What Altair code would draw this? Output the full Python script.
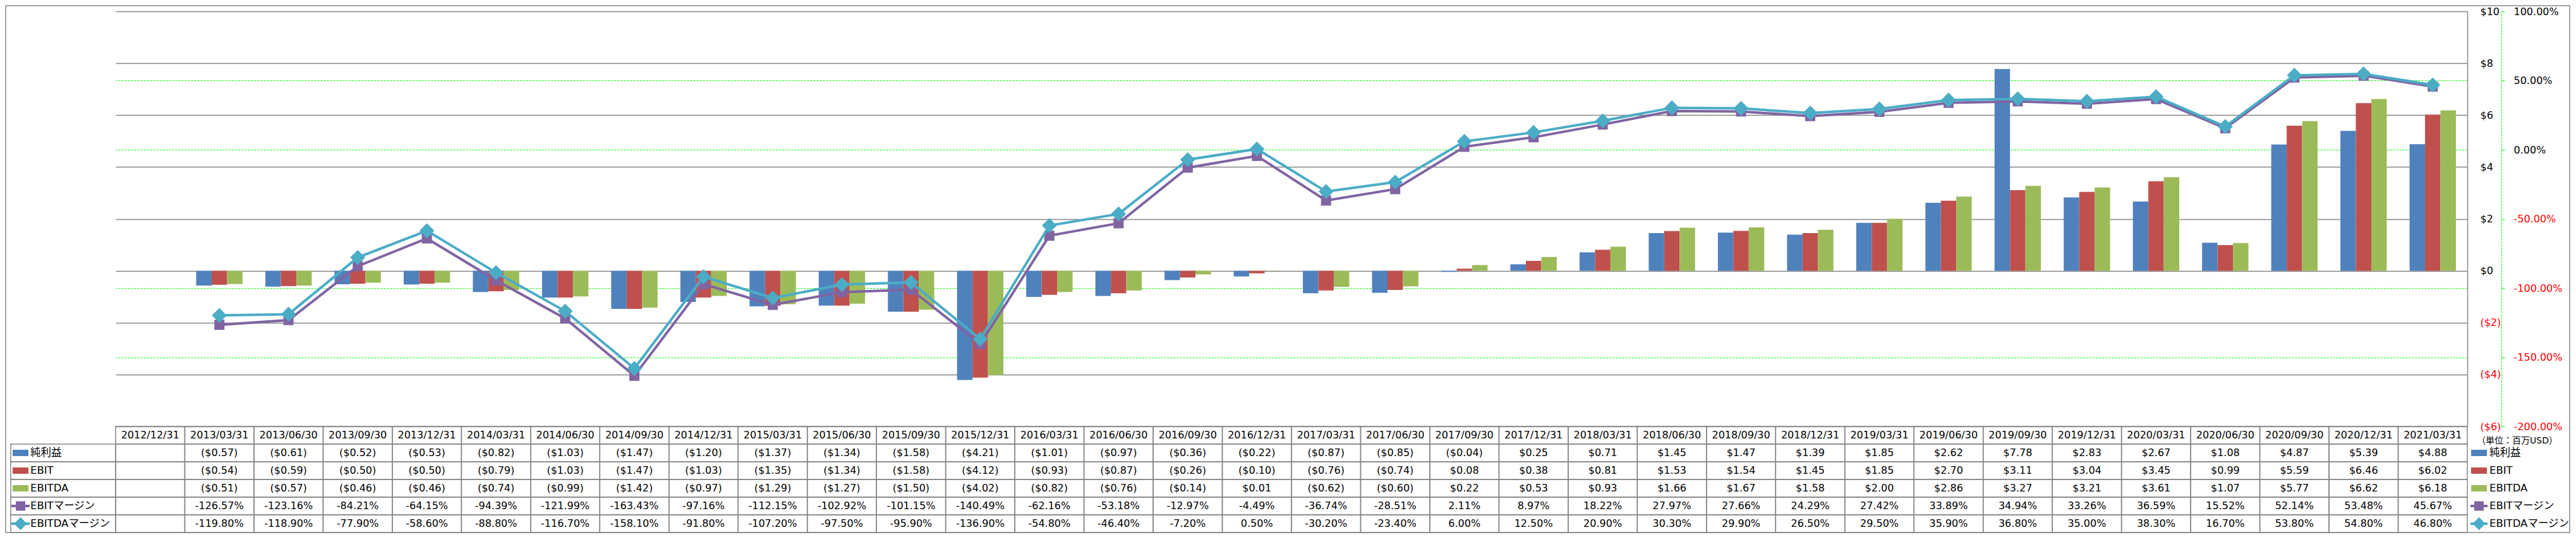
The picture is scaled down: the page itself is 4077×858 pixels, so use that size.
import altair as alt
import pandas as pd

# ---------------- data ----------------
cats = ["2012/12/31", "2013/03/31", "2013/06/30", "2013/09/30", "2013/12/31",
        "2014/03/31", "2014/06/30", "2014/09/30", "2014/12/31",
        "2015/03/31", "2015/06/30", "2015/09/30", "2015/12/31",
        "2016/03/31", "2016/06/30", "2016/09/30", "2016/12/31",
        "2017/03/31", "2017/06/30", "2017/09/30", "2017/12/31",
        "2018/03/31", "2018/06/30", "2018/09/30", "2018/12/31",
        "2019/03/31", "2019/06/30", "2019/09/30", "2019/12/31",
        "2020/03/31", "2020/06/30", "2020/09/30", "2020/12/31", "2021/03/31"]

net_income = [None, -0.57, -0.61, -0.52, -0.53, -0.82, -1.03, -1.47, -1.20,
              -1.37, -1.34, -1.58, -4.21, -1.01, -0.97, -0.36, -0.22,
              -0.87, -0.85, -0.04, 0.25, 0.71, 1.45, 1.47, 1.39,
              1.85, 2.62, 7.78, 2.83, 2.67, 1.08, 4.87, 5.39, 4.88]
ebit = [None, -0.54, -0.59, -0.50, -0.50, -0.79, -1.03, -1.47, -1.03,
        -1.35, -1.34, -1.58, -4.12, -0.93, -0.87, -0.26, -0.10,
        -0.76, -0.74, 0.08, 0.38, 0.81, 1.53, 1.54, 1.45,
        1.85, 2.70, 3.11, 3.04, 3.45, 0.99, 5.59, 6.46, 6.02]
ebitda = [None, -0.51, -0.57, -0.46, -0.46, -0.74, -0.99, -1.42, -0.97,
          -1.29, -1.27, -1.50, -4.02, -0.82, -0.76, -0.14, 0.01,
          -0.62, -0.60, 0.22, 0.53, 0.93, 1.66, 1.67, 1.58,
          2.00, 2.86, 3.27, 3.21, 3.61, 1.07, 5.77, 6.62, 6.18]
ebit_margin = [None, -126.57, -123.16, -84.21, -64.15, -94.39, -121.99, -163.43, -97.16,
               -112.15, -102.92, -101.15, -140.49, -62.16, -53.18, -12.97, -4.49,
               -36.74, -28.51, 2.11, 8.97, 18.22, 27.97, 27.66, 24.29,
               27.42, 33.89, 34.94, 33.26, 36.59, 15.52, 52.14, 53.48, 45.67]
ebitda_margin = [None, -119.80, -118.90, -77.90, -58.60, -88.80, -116.70, -158.10, -91.80,
                 -107.20, -97.50, -95.90, -136.90, -54.80, -46.40, -7.20, 0.50,
                 -30.20, -23.40, 6.00, 12.50, 20.90, 30.30, 29.90, 26.50,
                 29.50, 35.90, 36.80, 35.00, 38.30, 16.70, 53.80, 54.80, 46.80]

bar_series = ["純利益", "EBIT", "EBITDA"]
line_series = ["EBITマージン", "EBITDAマージン"]
all_series = bar_series + line_series
series_colors = ["#4F81BD", "#C0504D", "#9BBB59", "#8064A2", "#4BACC6"]

usd_ticks = [-6, -4, -2, 0, 2, 4, 6, 8, 10]
pct_ticks = [-200, -150, -100, -50, 0, 50, 100]
unit_label = "（単位：百万USD）"

# ---------------- tables built from the lists ----------------
bars_df = pd.DataFrame([{"cat": c, "series": s, "value": v}
                        for s, vals in zip(bar_series, [net_income, ebit, ebitda])
                        for c, v in zip(cats, vals) if v is not None])
lines_df = pd.DataFrame([{"cat": c, "series": s, "margin": v}
                         for s, vals in zip(line_series, [ebit_margin, ebitda_margin])
                         for c, v in zip(cats, vals) if v is not None])


def usd_text(v):
    if v is None:
        return ""
    return f"(${abs(v):.2f})" if v < 0 else f"${v:.2f}"


def pct_text(v):
    return "" if v is None else f"{v:.2f}%"


rows6 = ["hdr"] + all_series
text_rows = []
for i, c in enumerate(cats):
    text_rows.append({"cat": c, "row": "hdr", "label": c})
    for s, vals in zip(bar_series, [net_income, ebit, ebitda]):
        text_rows.append({"cat": c, "row": s, "label": usd_text(vals[i])})
    for s, vals in zip(line_series, [ebit_margin, ebitda_margin]):
        text_rows.append({"cat": c, "row": s, "label": pct_text(vals[i])})
text_df = pd.DataFrame(text_rows)
cells_df = pd.DataFrame([{"cat": c, "row": r} for c in cats for r in rows6])
lab_df = pd.DataFrame({"row": all_series, "series": all_series})
labbar_df = lab_df[lab_df.series.isin(bar_series)]
labline_df = lab_df[lab_df.series.isin(line_series)]

# ---------------- layout constants ----------------
FONT = "DejaVu Sans, Noto Sans CJK JP, sans-serif"
W = 3722
PH = 657
ROWH = 28
H = PH + ROWH * 6
GRID = "#868686"
GREEN = "#00FF00"

color_scale = alt.Scale(domain=all_series, range=series_colors)
x_band = alt.Scale(domain=cats, paddingInner=0.33, paddingOuter=0.165)
x_point = alt.Scale(type="point", domain=cats, padding=0.5)
x_cell = alt.Scale(domain=cats, paddingInner=0, paddingOuter=0)
y_usd = alt.Scale(domain=[-6, 10], range=[PH, 0], nice=False, zero=False)
y_pct = alt.Scale(domain=[-200, 100], range=[PH, 0], nice=False, zero=False)
y_rowband = alt.Scale(domain=rows6, range=[PH, H], paddingInner=0, paddingOuter=0)
y_rowpt = alt.Scale(type="point", domain=rows6, range=[PH, H], padding=0.5)

neg_red = {"condition": {"test": "datum.value < 0", "value": "#FF0000"}, "value": "#000000"}

pct_axis = alt.Axis(orient="right", offset=54, values=pct_ticks, title=None,
                    grid=True, gridColor=GREEN, gridDash=[3, 2], gridWidth=1,
                    domainColor=GREEN, domainDash=[3, 2], domainWidth=1,
                    tickColor=GREEN, tickSize=5, tickWidth=1,
                    labelPadding=14, labelFont=FONT, labelFontSize=16,
                    labelExpr="(datum.value < 0 ? '-' : '') + format(abs(datum.value), '.2f') + '%'",
                    labelColor=neg_red)
usd_axis = alt.Axis(orient="right", values=usd_ticks, title=None,
                    grid=True, gridColor=GRID, gridWidth=1.5,
                    domainColor=GRID, domainWidth=1.5,
                    ticks=False, tickSize=0, labelPadding=20,
                    labelFont=FONT, labelFontSize=16,
                    labelExpr="datum.value < 0 ? '($' + abs(datum.value) + ')' : '$' + datum.value",
                    labelColor=neg_red)

# percent axis carrier (drawn first so the grey grid sits above the green one)
pct_carrier = alt.Chart(lines_df).mark_point(opacity=0).encode(
    x=alt.X("cat:N", scale=x_point, axis=None),
    y=alt.Y("margin:Q", scale=y_pct, axis=pct_axis))

bars = alt.Chart(bars_df).mark_bar().encode(
    x=alt.X("cat:N", scale=x_band, axis=None),
    xOffset=alt.XOffset("series:N", scale=alt.Scale(domain=bar_series, paddingInner=0, paddingOuter=0)),
    y=alt.Y("value:Q", scale=y_usd, axis=usd_axis),
    color=alt.Color("series:N", scale=color_scale, legend=None))


def margin_layers(series, shape, size):
    d = lines_df[lines_df.series == series]
    enc = dict(x=alt.X("cat:N", scale=x_point, axis=None),
               y=alt.Y("margin:Q", scale=y_pct, axis=None),
               color=alt.Color("series:N", scale=color_scale, legend=None))
    ln = alt.Chart(d).mark_line(strokeWidth=4).encode(**enc)
    pt = alt.Chart(d).mark_point(shape=shape, size=size, filled=True, opacity=1).encode(**enc)
    return [ln, pt]


cells = alt.Chart(cells_df).mark_rect(fillOpacity=0, stroke=GRID, strokeWidth=1.5).encode(
    x=alt.X("cat:N", scale=x_cell, axis=None),
    y=alt.Y("row:N", scale=y_rowband, axis=None))
cell_text = alt.Chart(text_df).mark_text(font=FONT, fontSize=16, color="#000000",
                                         align="center", baseline="middle").encode(
    x=alt.X("cat:N", scale=x_point, axis=None),
    y=alt.Y("row:N", scale=y_rowpt, axis=None),
    text="label:N")

left_cells = alt.Chart(lab_df).mark_rect(fillOpacity=0, stroke=GRID, strokeWidth=1.5).encode(
    x=alt.value(-166), x2=alt.value(0),
    y=alt.Y("row:N", scale=y_rowband, axis=None))


def legend_column(x_sw, x_rule0, x_rule1, x_text):
    layers = []
    layers.append(alt.Chart(labbar_df).mark_point(
        shape="M-1,-0.4L1,-0.4L1,0.4L-1,0.4Z", size=625, filled=True, opacity=1).encode(
        x=alt.value(x_sw), y=alt.Y("row:N", scale=y_rowpt, axis=None),
        color=alt.Color("series:N", scale=color_scale, legend=None)))
    layers.append(alt.Chart(labline_df).mark_rule(strokeWidth=4).encode(
        x=alt.value(x_rule0), x2=alt.value(x_rule1),
        y=alt.Y("row:N", scale=y_rowpt, axis=None),
        color=alt.Color("series:N", scale=color_scale, legend=None)))
    layers.append(alt.Chart(labline_df[labline_df.series == "EBITマージン"]).mark_point(
        shape="square", size=225, filled=True, opacity=1).encode(
        x=alt.value(x_sw), y=alt.Y("row:N", scale=y_rowpt, axis=None),
        color=alt.Color("series:N", scale=color_scale, legend=None)))
    layers.append(alt.Chart(labline_df[labline_df.series == "EBITDAマージン"]).mark_point(
        shape="diamond", size=420, filled=True, opacity=1).encode(
        x=alt.value(x_sw), y=alt.Y("row:N", scale=y_rowpt, axis=None),
        color=alt.Color("series:N", scale=color_scale, legend=None)))
    layers.append(alt.Chart(lab_df).mark_text(font=FONT, fontSize=16.5, color="#000000",
                                              align="left", baseline="middle").encode(
        x=alt.value(x_text), y=alt.Y("row:N", scale=y_rowpt, axis=None), text="row:N"))
    return layers


unit = alt.Chart(pd.DataFrame({"row": ["hdr"], "t": [unit_label]})).mark_text(
    font=FONT, fontSize=14, color="#000000", align="left", baseline="middle", dy=9).encode(
    x=alt.value(3737), y=alt.Y("row:N", scale=y_rowpt, axis=None), text="t:N")

border = alt.Chart(pd.DataFrame({"a": [0]})).mark_rect(
    fillOpacity=0, stroke=GRID, strokeWidth=1.5).encode(
    x=alt.value(-174), x2=alt.value(3884), y=alt.value(-9), y2=alt.value(H))

layers = [pct_carrier, bars]
layers += margin_layers("EBITマージン", "square", 256)
layers += margin_layers("EBITDAマージン", "diamond", 560)
layers += [cells, cell_text, left_cells]
layers += legend_column(-150.5, -165, -136, -135)
layers += legend_column(3740.5, 3727, 3754, 3757)
layers += [unit, border]

chart = alt.layer(*layers).resolve_scale(x="independent", y="independent").properties(
    width=W, height=H,
    padding={"left": 175, "top": 10, "right": 164, "bottom": 1},
    autosize=alt.AutoSizeParams(type="none"),
    background="white",
).configure_view(strokeWidth=0)

chart.save("out.html", embed_options={"renderer": "svg", "actions": False})
